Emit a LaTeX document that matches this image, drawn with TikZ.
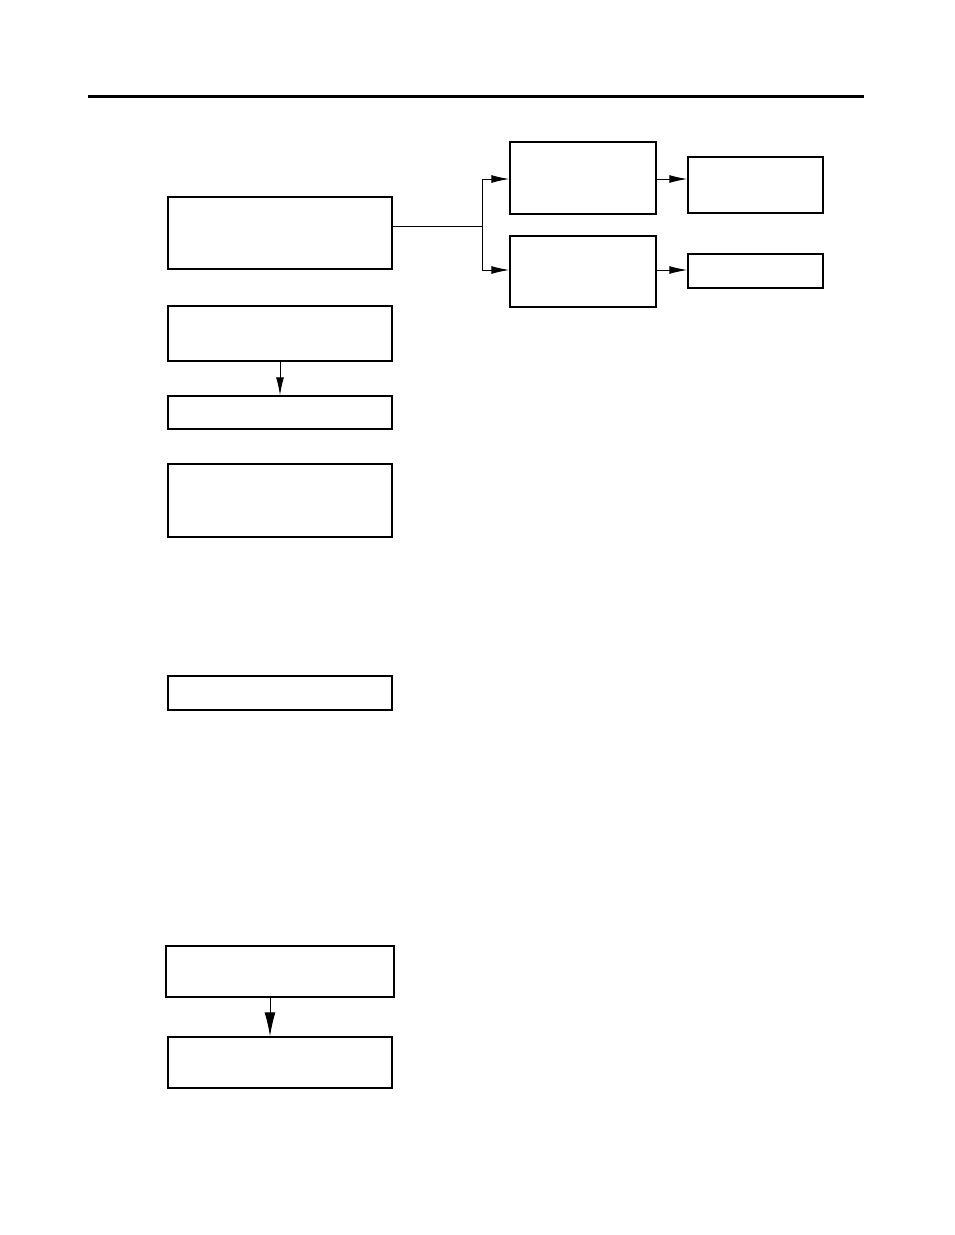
\documentclass[tikz,border=0pt]{standalone}
\usetikzlibrary{arrows.meta}
\begin{document}
\begin{tikzpicture}[x=1pt,y=-1pt,
  boxs/.style={draw=black,line width=1.5pt,fill=white,inner sep=0pt},
  conn/.style={draw=black,line width=1pt},
  arr/.style={conn,-{Latex[length=18pt,width=8pt]}},
  bigarr/.style={conn,-{Latex[length=24pt,width=11pt]}}]
\useasboundingbox (0,0) rectangle (954,1235);
\draw[line width=3pt] (88,96) -- (864,96);
\node[boxs,minimum width=224pt,minimum height=72pt] (A) at (280,233) {};
\node[boxs,minimum width=146pt,minimum height=72pt] (B) at (583,178) {};
\node[boxs,minimum width=135pt,minimum height=56pt] (C) at (755.5,185) {};
\node[boxs,minimum width=146pt,minimum height=71pt] (D) at (583,271.5) {};
\node[boxs,minimum width=135pt,minimum height=34pt] (E) at (755.5,271) {};
\node[boxs,minimum width=224pt,minimum height=55pt] (F) at (280,333.5) {};
\node[boxs,minimum width=224pt,minimum height=33pt] (G) at (280,412.5) {};
\node[boxs,minimum width=224pt,minimum height=73pt] (H) at (280,500.5) {};
\node[boxs,minimum width=224pt,minimum height=34pt] (I) at (280,693) {};
\node[boxs,minimum width=228pt,minimum height=51pt] (J) at (280,971.5) {};
\node[boxs,minimum width=224pt,minimum height=51pt] (K) at (280,1062.5) {};
\coordinate (m) at (482,226);
\draw[conn] (A.east |- m) -- (m);
\draw[arr] (m) |- (B.west |- 0,179);
\draw[arr] (m) |- (D.west |- 0,270);
\draw[arr] (B.east |- 0,179) -- (C.west |- 0,179);
\draw[arr] (D.east |- 0,270) -- (E.west |- 0,270);
\draw[arr] (F.south) -- (G.north);
\draw[bigarr] (J.south -| 270,0) -- (K.north -| 270,0);
\end{tikzpicture}
\end{document}
